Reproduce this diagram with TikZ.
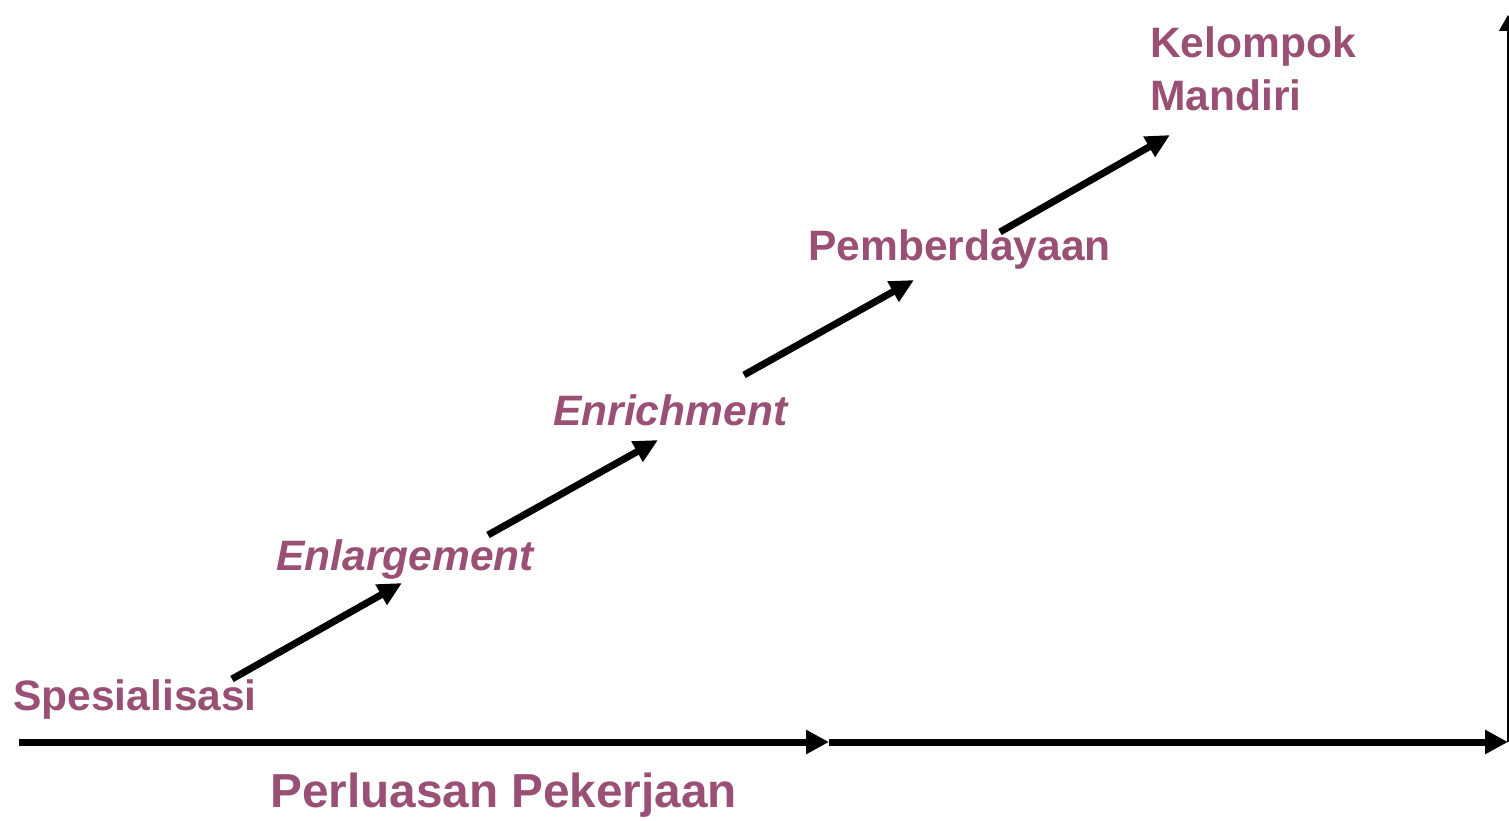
\documentclass[tikz,border=0pt]{standalone}
\usepackage{fontspec}
\setmainfont{Liberation Sans}
\usetikzlibrary{arrows.meta}
\definecolor{plum}{HTML}{9A5075}
\begin{document}
\begin{tikzpicture}[x=1bp,y=-1bp,
  lbl/.style={anchor=base west,inner sep=0pt,text=plum,font=\fontsize{42.7}{50}\selectfont\bfseries},
  ilbl/.style={lbl,font=\fontsize{42.7}{50}\selectfont\bfseries\itshape},
  step arrow/.style={line width=7bp,-{Triangle[length=24bp,width=22bp]}},
  axis arrow/.style={line width=7bp,-{Triangle[length=23bp,width=23bp]}},
  vaxis/.style={line width=1.5bp,-{Triangle[length=16bp,width=18bp]}}]
\useasboundingbox (0,0) rectangle (1509,820);
\node[lbl] (spes) at (13,710) {Spesialisasi};
\node[ilbl] (enl) at (276,570) {Enlargement};
\node[ilbl] (enr) at (553,425) {Enrichment};
\node[lbl] (pem) at (808,260) {Pemberdayaan};
\node[lbl] (kel) at (1150,58) {Kelompok};
\node[lbl] (man) at (1150,110) {Mandiri};
\node[lbl,font=\fontsize{47.9}{56}\selectfont\bfseries] (perl) at (270,807) {Perluasan Pekerjaan};
\coordinate (a1s) at (232,679); \coordinate (a1e) at (402,583);
\coordinate (a2s) at (488,535); \coordinate (a2e) at (658,440);
\coordinate (a3s) at (744,375); \coordinate (a3e) at (914,280);
\coordinate (a4s) at (1000,232); \coordinate (a4e) at (1170,135);
\draw[step arrow] (a1s) -- (a1e);
\draw[step arrow] (a2s) -- (a2e);
\draw[step arrow] (a3s) -- (a3e);
\draw[step arrow] (a4s) -- (a4e);
\coordinate (o) at (19,742);
\coordinate (mid) at (829,742);
\coordinate (xend) at (1508,742);
\coordinate (vb) at (1508,742);
\coordinate (vt) at (1508,15);
\draw[axis arrow] (o) -- (mid);
\draw[axis arrow] (mid) -- (xend);
\draw[vaxis] (vb) -- (vt);
\end{tikzpicture}
\end{document}
